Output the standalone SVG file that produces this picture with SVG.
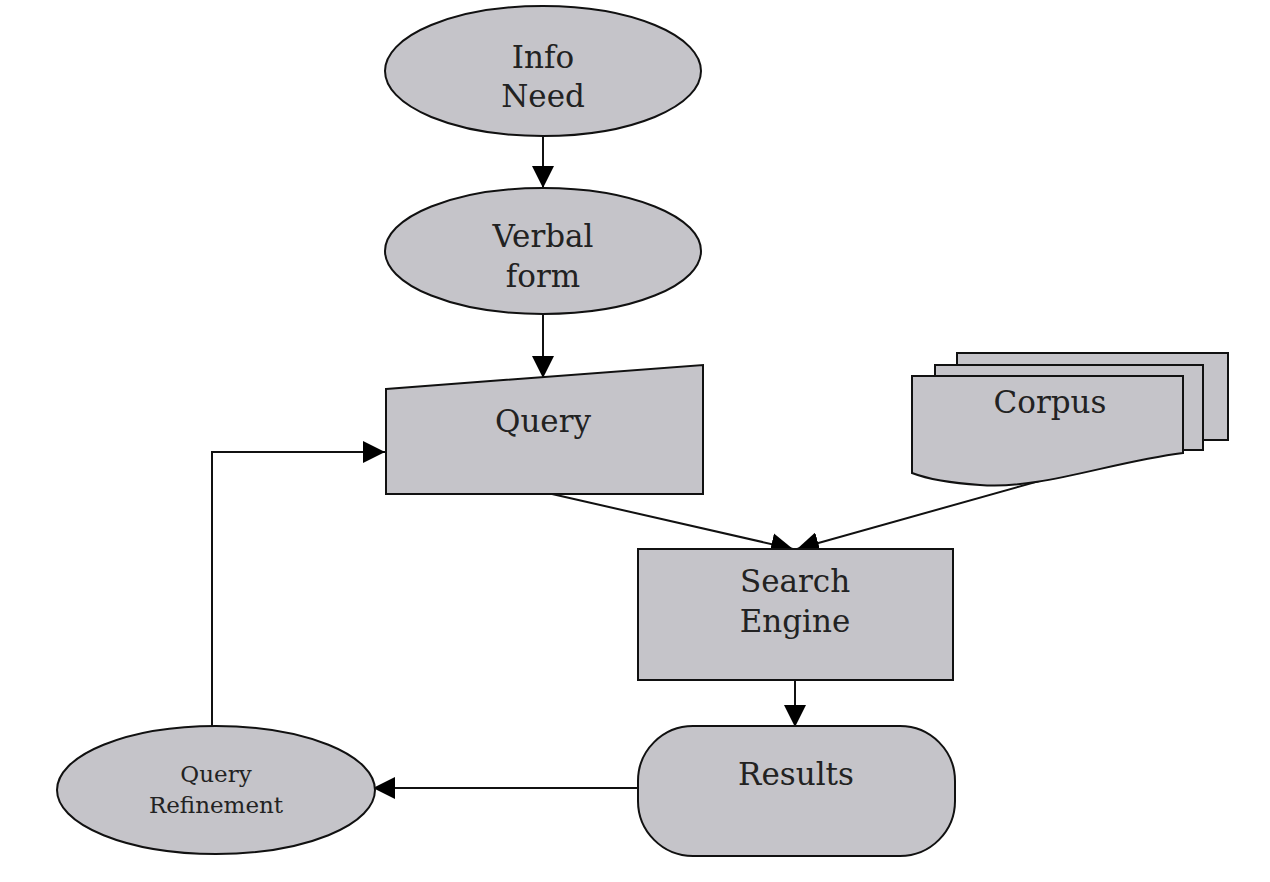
<svg xmlns="http://www.w3.org/2000/svg" width="1270" height="882" viewBox="0 0 1270 882">
<style>
.shape{fill:#c5c4c9;stroke:#111;stroke-width:2}
.lbl{font-family:"DejaVu Serif","Liberation Serif",serif;font-size:31px;fill:#222;text-anchor:middle}
.sm{font-size:23px}
.conn{fill:none;stroke:#111;stroke-width:2}
</style>
<defs>
<marker id="ah" markerUnits="userSpaceOnUse" markerWidth="24" markerHeight="22" refX="22" refY="11" orient="auto">
<path d="M0,0 L22,11 L0,22 Z" fill="#000"/>
</marker>
</defs>
<rect width="1270" height="882" fill="#fff"/>
<g id="connectors">
<line class="conn" x1="543" y1="136" x2="543" y2="188" marker-end="url(#ah)"/>
<line class="conn" x1="543" y1="315" x2="543" y2="378" marker-end="url(#ah)"/>
<line class="conn" x1="552" y1="494" x2="793" y2="549" marker-end="url(#ah)"/>
<line class="conn" x1="1075" y1="471" x2="797" y2="549" marker-end="url(#ah)"/>
<line class="conn" x1="795" y1="680" x2="795" y2="727" marker-end="url(#ah)"/>
<line class="conn" x1="638" y1="788" x2="373" y2="788" marker-end="url(#ah)"/>
<polyline class="conn" points="212,726 212,452 385,452" marker-end="url(#ah)"/>
</g>
<g id="info-need">
<ellipse class="shape" cx="543" cy="71" rx="158" ry="65"/>
<text class="lbl" x="543" y="68">Info</text>
<text class="lbl" x="543" y="107">Need</text>
</g>
<g id="verbal-form">
<ellipse class="shape" cx="543" cy="251" rx="158" ry="63"/>
<text class="lbl" x="543" y="247">Verbal</text>
<text class="lbl" x="543" y="287">form</text>
</g>
<g id="query">
<path class="shape" d="M386,389 L703,365 L703,494 L386,494 Z"/>
<text class="lbl" x="543" y="432">Query</text>
</g>
<g id="corpus">
<path class="shape" d="M957,353 H1228 V440 H957 Z"/>
<path class="shape" d="M935,365 H1203 V450 H935 Z"/>
<path class="shape" d="M912,376 H1183 V453 C1110,462 1040,490 980,485 C950,483 925,478 912,473 Z"/>
<text class="lbl" x="1050" y="413">Corpus</text>
</g>
<g id="search-engine">
<rect class="shape" x="638" y="549" width="315" height="131"/>
<text class="lbl" x="795" y="592">Search</text>
<text class="lbl" x="795" y="632">Engine</text>
</g>
<g id="results">
<rect class="shape" x="638" y="726" width="317" height="130" rx="55" ry="55"/>
<text class="lbl" x="796" y="785">Results</text>
</g>
<g id="query-refinement">
<ellipse class="shape" cx="216" cy="790" rx="159" ry="64"/>
<text class="lbl sm" x="216" y="782">Query</text>
<text class="lbl sm" x="216" y="813">Refinement</text>
</g>
</svg>
